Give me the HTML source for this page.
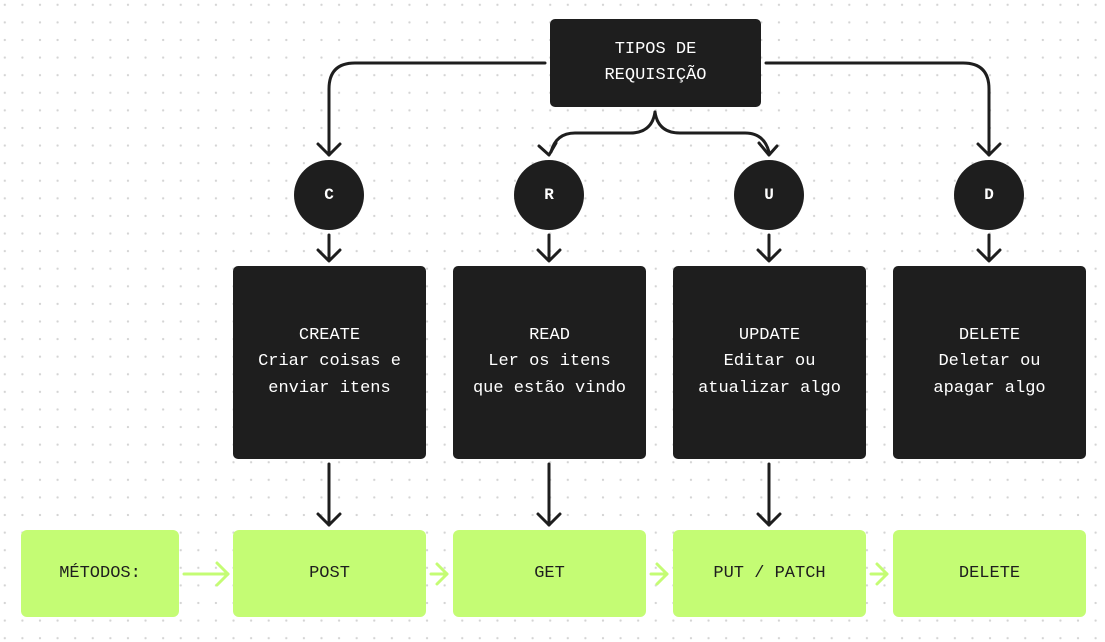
<!DOCTYPE html>
<html><head><style>
body{margin:0;width:1105px;height:642px;overflow:hidden;background:#fff;
background-image:radial-gradient(circle,#d4d4d4 1px,transparent 1.3px);background-size:17.6px 17.6px;background-position:-4px -4px;
font-family:"Liberation Mono",monospace;}
.b{position:absolute;background:#1e1e1e;color:#fff;border-radius:5px;display:flex;align-items:center;justify-content:center;text-align:center;font-size:17px;line-height:26.5px;}
.g{position:absolute;background:#c4fc74;color:#1e1e1e;border-radius:6px;display:flex;align-items:center;justify-content:center;font-size:17px;top:530px;height:87px;}
.c{position:absolute;width:70px;height:70px;border-radius:50%;background:#1e1e1e;color:#fff;display:flex;align-items:center;justify-content:center;font-size:16px;font-weight:bold;top:160px;}
svg{position:absolute;left:0;top:0}
</style></head><body>
<svg width="1105" height="642" fill="none" stroke-linecap="round" stroke-linejoin="round">
<g stroke="#1e1e1e" stroke-width="3">
<path d="M545 63 H355 Q329 63 329 89 V155"/><path d="M318 144 L329 155 L340 144"/>
<path d="M766 63 H963 Q989 63 989 89 V155"/><path d="M978 144 L989 155 L1000 144"/>
<path d="M655 112 Q652 133 630 133 H575 Q556 133 551 152"/><path d="M539 146 L549 155 L556 143"/>
<path d="M655 112 Q658 133 680 133 H745 Q764 133 769 152"/><path d="M759 143 L769 155 L777 146"/>
<path d="M329 235 V260"/><path d="M318 250 L329 261 L340 250"/>
<path d="M549 235 V260"/><path d="M538 250 L549 261 L560 250"/>
<path d="M769 235 V260"/><path d="M758 250 L769 261 L780 250"/>
<path d="M989 235 V260"/><path d="M978 250 L989 261 L1000 250"/>
<path d="M329 464 V525"/><path d="M318 514 L329 525 L340 514"/>
<path d="M549 464 V525"/><path d="M538 514 L549 525 L560 514"/>
<path d="M769 464 V525"/><path d="M758 514 L769 525 L780 514"/>
</g>
<g stroke="#c4fc74" stroke-width="3">
<path d="M184 574 H228"/><path d="M217 563 L228 574 L217 585"/>
<path d="M431 574 H447"/><path d="M437 564 L447 574 L437 584"/>
<path d="M651 574 H667"/><path d="M657 564 L667 574 L657 584"/>
<path d="M871 574 H887"/><path d="M877 564 L887 574 L877 584"/>
</g>
</svg>
<div class="b" style="left:550px;top:19px;width:211px;height:88px">TIPOS DE<br>REQUISIÇÃO</div>
<div class="c" style="left:294px">C</div>
<div class="c" style="left:514px">R</div>
<div class="c" style="left:734px">U</div>
<div class="c" style="left:954px">D</div>
<div class="b" style="left:233px;top:266px;width:193px;height:193px">CREATE<br>Criar coisas e<br>enviar itens</div>
<div class="b" style="left:453px;top:266px;width:193px;height:193px">READ<br>Ler os itens<br>que estão vindo</div>
<div class="b" style="left:673px;top:266px;width:193px;height:193px">UPDATE<br>Editar ou<br>atualizar algo</div>
<div class="b" style="left:893px;top:266px;width:193px;height:193px">DELETE<br>Deletar ou<br>apagar algo</div>
<div class="g" style="left:21px;width:158px">MÉTODOS:</div>
<div class="g" style="left:233px;width:193px">POST</div>
<div class="g" style="left:453px;width:193px">GET</div>
<div class="g" style="left:673px;width:193px">PUT / PATCH</div>
<div class="g" style="left:893px;width:193px">DELETE</div>
</body></html>
